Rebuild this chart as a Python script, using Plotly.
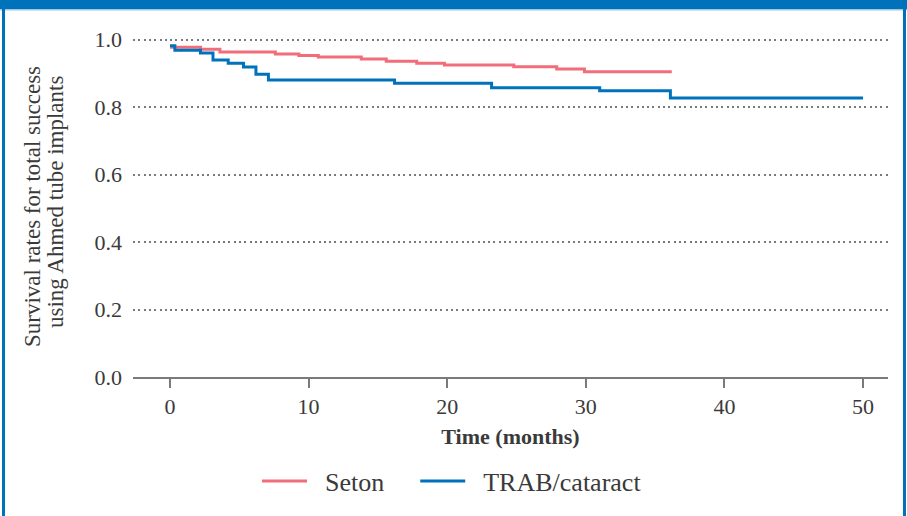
import plotly.graph_objects as go

# Kaplan-Meier style step data
seton_t = [0, 2.2, 3.6, 7.6, 9.3, 10.7, 13.8, 15.6, 17.8, 19.8, 24.8, 27.9, 29.9, 36.2]
seton_s = [0.978, 0.972, 0.964, 0.958, 0.953, 0.949, 0.943, 0.936, 0.930, 0.925, 0.920, 0.913, 0.905, 0.905]

trab_t = [0, 0.35, 2.2, 3.1, 4.2, 5.3, 6.2, 7.1, 16.2, 23.2, 31.0, 36.1, 50.0]
trab_s = [0.982, 0.969, 0.961, 0.940, 0.930, 0.919, 0.898, 0.881, 0.871, 0.858, 0.849, 0.827, 0.827]

series_names = ["Seton", "TRAB/cataract"]

x_ticks = [0, 10, 20, 30, 40, 50]
y_ticks = [0.0, 0.2, 0.4, 0.6, 0.8, 1.0]
y_tick_text = ["0.0", "0.2", "0.4", "0.6", "0.8", "1.0"]

y_title_lines = ["Survival rates for total success", "using Ahmed tube implants"]

RED = "#F26D7A"
BLUE = "#0072BC"
TXT = "#3a3a3a"
GRID = "#7a7a7a"
FONT = "Liberation Serif"
NB = "\u00a0"

fig = go.Figure()
fig.add_trace(go.Scatter(x=seton_t, y=seton_s, mode="lines",
                         name=NB * 2 + series_names[0] + NB * 4,
                         line=dict(color=RED, width=3, shape="hv")))
fig.add_trace(go.Scatter(x=trab_t, y=trab_s, mode="lines",
                         name=NB * 2 + series_names[1],
                         line=dict(color=BLUE, width=3, shape="hv")))

W, H = 907, 516
ml, mr, mt, mb = 133, 19, 33, 139
pw, ph = W - ml - mr, H - mt - mb

def px(xp):
    return (xp - ml) / pw

def py(yp):
    return (H - mb - yp) / ph

shapes = [
    dict(type="rect", xref="paper", yref="paper", x0=px(0), x1=px(W), y0=py(0), y1=py(9),
         fillcolor=BLUE, line=dict(width=0), layer="above"),
    dict(type="rect", xref="paper", yref="paper", x0=px(0), x1=px(W), y0=py(9), y1=py(10.5),
         fillcolor="#9cc8e6", line=dict(width=0), layer="above"),
    dict(type="rect", xref="paper", yref="paper", x0=px(2), x1=px(5), y0=py(0), y1=py(H),
         fillcolor=BLUE, line=dict(width=0), layer="above"),
    dict(type="rect", xref="paper", yref="paper", x0=px(903), x1=px(906), y0=py(0), y1=py(H),
         fillcolor=BLUE, line=dict(width=0), layer="above"),
]

annotations = [
    dict(text=y_title_lines[0], xref="paper", yref="paper", x=px(32), y=py(207),
         xanchor="center", yanchor="middle", textangle=-90, showarrow=False,
         font=dict(family=FONT, size=23, color=TXT)),
    dict(text=y_title_lines[1], xref="paper", yref="paper", x=px(55), y=py(202),
         xanchor="center", yanchor="middle", textangle=-90, showarrow=False,
         font=dict(family=FONT, size=23, color=TXT)),
]

fig.update_layout(
    width=W, height=H,
    margin=dict(l=ml, r=mr, t=mt, b=mb, autoexpand=False),
    paper_bgcolor="white", plot_bgcolor="white",
    font=dict(family=FONT, size=22, color=TXT),
    showlegend=True,
    legend=dict(orientation="h", x=px(452), xanchor="center", y=py(481), yanchor="middle",
                font=dict(family=FONT, size=26, color=TXT), itemwidth=45,
                tracegroupgap=0),
    xaxis=dict(range=[-2.67, 51.8], tickvals=x_ticks, ticks="outside", ticklen=9,
               tickwidth=2, tickcolor=GRID, showline=True, linecolor=GRID,
               linewidth=2, showgrid=False, zeroline=False,
               tickfont=dict(family=FONT, size=22, color=TXT),
               title=dict(text="<b>Time (months)</b>", standoff=10,
                          font=dict(family=FONT, size=22, color=TXT))),
    yaxis=dict(range=[0, 1.02], tickvals=y_ticks, ticktext=y_tick_text, showline=False,
               ticks="", showgrid=True, gridcolor=GRID, griddash="2px,3.3px", gridwidth=2,
               zeroline=False, ticklabelstandoff=10,
               tickfont=dict(family=FONT, size=22, color=TXT)),
    shapes=shapes,
    annotations=annotations,
)

fig.write_html("out.html", config={"displayModeBar": False},
               post_script="document.body.style.margin='0';document.body.style.overflow='hidden';")
